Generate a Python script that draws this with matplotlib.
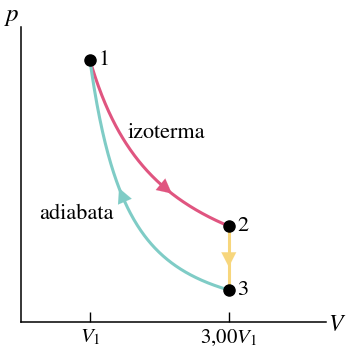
import numpy as np
import matplotlib
matplotlib.use("Agg")
import matplotlib.pyplot as plt

plt.rcParams['mathtext.fontset'] = 'stix'
plt.rcParams['font.family'] = ['STIXGeneral', 'DejaVu Serif']

# States (V in units of V1, p in arbitrary units as drawn)
state_labels = ["1", "2", "3"]
state_V = [1.0, 3.0, 3.0]
state_p = [1.0, 0.366, 0.122]
tick_pos = [1.0, 3.0]
tick_labels = [r"$V_1$", r"$3{,}00V_1$"]

c_iso = "#E05580"
c_adi = "#7FCCC6"
c_ch = "#F7D67C"

W, H = 346, 349
fig = plt.figure(figsize=(W / 100, H / 100), dpi=100)
ax = fig.add_axes([20.5 / W, (H - 322) / H, (326 - 20.5) / W, (322 - 27) / H])
ax.set_xlim(0, 4.4)
ax.set_ylim(0, 1.126)
for s in ["top", "right"]:
    ax.spines[s].set_visible(False)
ax.spines["left"].set_linewidth(1.1)
ax.spines["bottom"].set_linewidth(1.1)
ax.set_yticks([])
ax.set_xticks(tick_pos)
ax.set_xticklabels(tick_labels, fontsize=15)
ax.tick_params(axis="x", direction="in", length=7, width=1.0, pad=4)

def curve(i, j, n=200):
    v0, p0 = state_V[i], state_p[i]
    v1, p1 = state_V[j], state_p[j]
    k = np.log(p0 / p1) / np.log(v1 / v0)
    v = np.linspace(v0, v1, n)
    return v, p0 * (v / v0) ** (-k), k

v, p, k_iso = curve(0, 1)
ax.plot(v, p, color=c_iso, lw=2.2, zorder=2, solid_capstyle="butt")
v2, p2, k_adi = curve(0, 2)
ax.plot(v2, p2, color=c_adi, lw=2.2, zorder=2, solid_capstyle="butt")
ax.plot([state_V[1], state_V[2]], [state_p[1], state_p[2]], color=c_ch, lw=2.2, zorder=2)

astyle = "-|>,head_length=0.55,head_width=0.28"

def head(xy_from, xy_to, color):
    ax.annotate("", xy=xy_to, xytext=xy_from,
                arrowprops=dict(arrowstyle=astyle, mutation_scale=19,
                                color=color, lw=0.1, shrinkA=0, shrinkB=0), zorder=3)

va, vb = 2.05, 2.18
head((va, state_p[0] * va ** (-k_iso)), (vb, state_p[0] * vb ** (-k_iso)), c_iso)
va, vb = 1.52, 1.42
head((va, state_p[0] * va ** (-k_adi)), (vb, state_p[0] * vb ** (-k_adi)), c_adi)
head((3.0, 0.26), (3.0, 0.21), c_ch)

ax.plot(state_V, state_p, "o", color="black", ms=8, zorder=4, clip_on=False)
for lab, x, y in zip(state_labels, state_V, state_p):
    ax.text(x + 0.12, y, lab, fontsize=16, va="center", ha="left")

ax.text(2.1, 0.72, "izoterma", fontsize=16, ha="center", va="center")
ax.text(0.8, 0.41, "adiabata", fontsize=16, ha="center", va="center")

fig.text(12 / W, 1 - 16 / H, r"$p$", fontsize=18, ha="center", va="center")
fig.text(346 / W, 1 - 325 / H, r"$V$", fontsize=17, ha="right", va="center")

fig.savefig("out.png", dpi=100)
